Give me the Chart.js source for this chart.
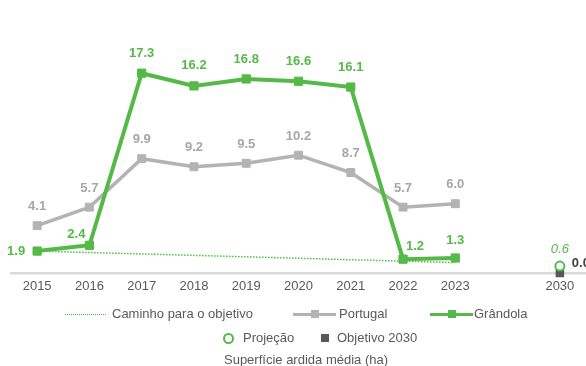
<!DOCTYPE html>
<html>
<head>
<meta charset="utf-8">
<script src="https://cdn.jsdelivr.net/npm/chart.js@4.4.1/dist/chart.umd.min.js"></script>
<style>
  html, body { margin: 0; padding: 0; background: #fff; }
  body { width: 586px; height: 366px; position: relative; overflow: hidden;
         font-family: "Liberation Sans", Arial, sans-serif; color: #595959; }
  #wrap { position: absolute; left: 0; top: 0; width: 586px; height: 366px; }
  .row { position: absolute; height: 16px; font-size: 13px; line-height: 16px; white-space: nowrap; }
  .item { position: absolute; top: 0; }
  .sw { position: absolute; top: 8px; }
  .dots { height: 0; border-top: 1.5px dotted #4cc040; }
  .ln { height: 3px; margin-top: -1.5px; }
  .sq { position: absolute; width: 8px; height: 8px; top: -4px; }
  .circ { position: absolute; width: 7px; height: 7px; border: 2px solid #55b947; border-radius: 50%; top: -5.5px; background: #fff; }
  .title { position: absolute; top: 352px; left: 0; width: 612px; text-align: center; font-size: 13px; line-height: 16px; }
</style>
</head>
<body>
<div id="wrap"><canvas id="chart" width="586" height="366"></canvas></div>

<div class="row" style="top:306px; left:0; width:586px;">
  <div class="sw dots" style="left:65px; width:41px;"></div>
  <div class="item" style="left:112px;">Caminho para o objetivo</div>
  <div class="sw ln" style="left:293px; width:43px; background:#b5b2b2;"><div class="sq" style="left:17.5px; top:-2.5px; background:#b5b2b2;"></div></div>
  <div class="item" style="left:339px;">Portugal</div>
  <div class="sw ln" style="left:430px; width:43px; background:#55b947; height:3.5px;"><div class="sq" style="left:17.5px; top:-2.25px; background:#55b947;"></div></div>
  <div class="item" style="left:474px;">Grândola</div>
</div>
<div class="row" style="top:330px; left:0; width:586px;">
  <div class="sw" style="left:223px;"><div class="circ" style="left:0;"></div></div>
  <div class="item" style="left:243px;">Projeção</div>
  <div class="sw" style="left:321px;"><div class="sq" style="left:0; background:#58585a;"></div></div>
  <div class="item" style="left:337px;">Objetivo 2030</div>
</div>
<div class="title">Superfície ardida média (ha)</div>

<script>
const years = ["2015", "2016", "2017", "2018", "2019", "2020", "2021", "2022", "2023", "", "2030"]
const grandola = [1.9, 2.4, 17.3, 16.2, 16.8, 16.6, 16.1, 1.2, 1.3, null, null]
const portugal = [4.1, 5.7, 9.9, 9.2, 9.5, 10.2, 8.7, 5.7, 6.0, null, null]
const caminho = [1.9, null, null, null, null, null, null, null, 0.9, null, null]
const projecao = [null, null, null, null, null, null, null, null, null, null, 0.6]
const objetivo = [null, null, null, null, null, null, null, null, null, null, 0.0]

const green = "#55b947"
const gray = "#b5b2b2"
const grayText = "#a8a6a6"
const dark = "#58585a"

// draws the value labels next to the points
const valueLabels = {
  id: "valueLabels",
  afterDatasetsDraw(chart) {
    const ctx = chart.ctx
    chart.data.datasets.forEach((ds, i) => {
      const lab = ds.valueLabel
      if (!lab) return
      const meta = chart.getDatasetMeta(i)
      meta.data.forEach((pt, j) => {
        const v = ds.data[j]
        if (v === null || v === undefined) return
        const off = (lab.offsets && lab.offsets[j]) || [0, lab.dy]
        ctx.save()
        ctx.font = lab.font
        ctx.fillStyle = lab.color
        ctx.textAlign = lab.align || "center"
        ctx.textBaseline = "middle"
        ctx.fillText(v.toFixed(1), pt.x + off[0], pt.y + off[1])
        ctx.restore()
      })
    })
  }
}

const boldFont = "bold 13px 'Liberation Sans', Arial, sans-serif"

new Chart(document.getElementById("chart"), {
  type: "line",
  data: {
    labels: years,
    datasets: [
      {
        label: "Projeção",
        data: projecao,
        showLine: false,
        pointStyle: "circle",
        pointRadius: 4.5,
        pointBorderWidth: 2,
        borderColor: green,
        pointBackgroundColor: "#fff",
        order: 0,
        clip: false,
        valueLabel: { color: green, font: "italic 13px 'Liberation Sans', Arial, sans-serif", dy: -17 }
      },
      {
        label: "Grândola",
        data: grandola,
        borderColor: green,
        backgroundColor: green,
        borderWidth: 4,
        pointStyle: "rect",
        pointRadius: 5.8,
        pointBorderWidth: 1,
        tension: 0,
        order: 1,
        valueLabel: {
          color: green, font: boldFont, dy: -20,
          offsets: { 0: [-21, 0], 1: [-13, -11], 7: [12, -13], 8: [0, -18] }
        }
      },
      {
        label: "Portugal",
        data: portugal,
        borderColor: gray,
        backgroundColor: gray,
        borderWidth: 3.5,
        pointStyle: "rect",
        pointRadius: 5.6,
        pointBorderWidth: 1,
        tension: 0,
        order: 2,
        valueLabel: { color: grayText, font: boldFont, dy: -19 }
      },
      {
        label: "Caminho para o objetivo",
        data: caminho,
        borderColor: "#4cc040",
        borderWidth: 1.5,
        borderDash: [1.5, 1.5],
        pointRadius: 0,
        spanGaps: true,
        order: 3
      },
      {
        label: "Objetivo 2030",
        data: objetivo,
        showLine: false,
        pointStyle: "rect",
        pointRadius: 6,
        pointBorderWidth: 0,
        backgroundColor: dark,
        borderColor: dark,
        order: 4,
        clip: false,
        valueLabel: { color: "#404040", font: boldFont, align: "left", offsets: { 10: [12, -10] } }
      }
    ]
  },
  options: {
    responsive: false,
    animation: false,
    layout: { autoPadding: false, padding: { left: 11, right: 0, top: 42, bottom: 63 } },
    plugins: { legend: { display: false }, tooltip: { enabled: false } },
    scales: {
      x: {
        offset: true,
        grid: { display: false, drawTicks: false },
        border: { display: true, color: "#d9d9d9", width: 2.5 },
        ticks: { color: "#595959", font: { size: 13, family: "'Liberation Sans', Arial, sans-serif" }, padding: 6, autoSkip: false, maxRotation: 0 },
        afterFit: (scale) => { scale.height = 30 }
      },
      y: { display: false, min: 0, max: 20 }
    }
  },
  plugins: [valueLabels]
})
</script>
</body>
</html>
